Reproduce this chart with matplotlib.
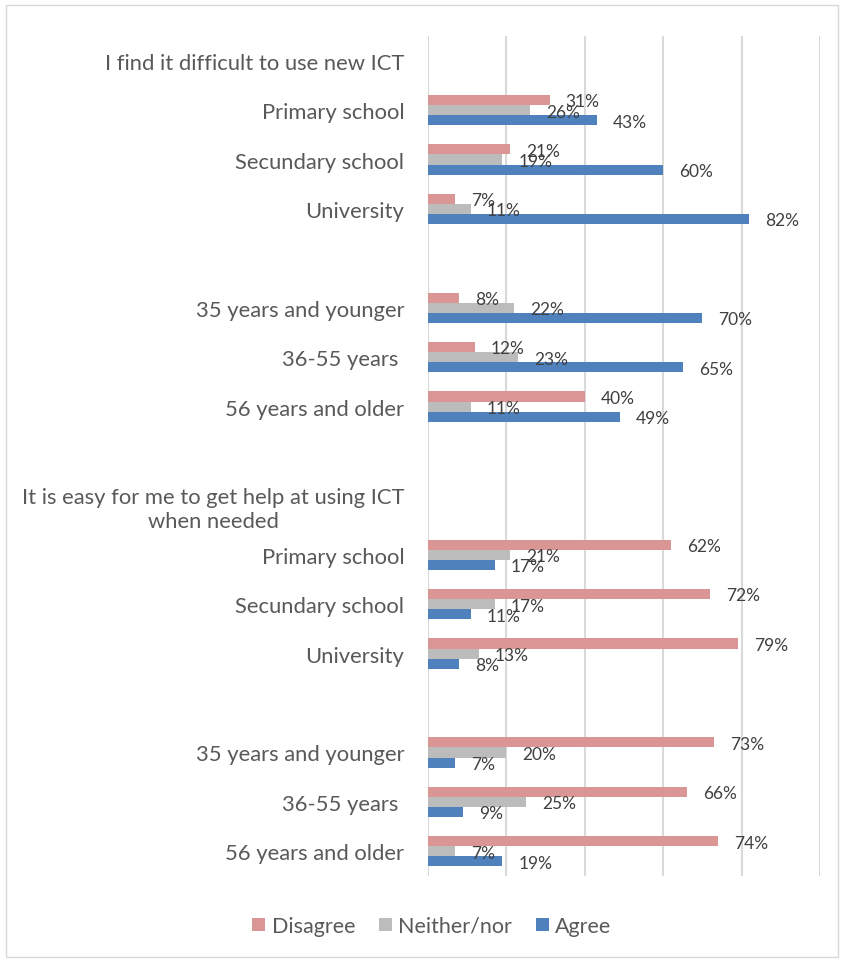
import matplotlib.pyplot as plt
from matplotlib.patches import Rectangle

# categorias (linhas vazias separam os blocos)
rows = ['I find it difficult to use new ICT',
        'Primary school', 'Secundary school', 'University', '',
        '35 years and younger', '36-55 years ', '56 years and older', '',
        'It is easy for me to get help at using ICT\nwhen needed',
        'Primary school', 'Secundary school', 'University', '',
        '35 years and younger', '36-55 years ', '56 years and older']

# linhas que têm barras
bar_rows = [1, 2, 3, 5, 6, 7, 10, 11, 12, 14, 15, 16]

disagree = [31, 21, 7, 8, 12, 40, 62, 72, 79, 73, 66, 74]
neither = [26, 19, 11, 22, 23, 11, 21, 17, 13, 20, 25, 7]
agree = [43, 60, 82, 70, 65, 49, 17, 11, 8, 7, 9, 19]

series = [('Disagree', disagree, '#D99694'),
          ('Neither/nor', neither, '#BCBCBC'),
          ('Agree', agree, '#4F81BD')]

plt.rcParams['font.family'] = ['Lato', 'DejaVu Sans']

fig = plt.figure(figsize=(8.46, 9.62), dpi=100)
ax = fig.add_axes([428 / 846, 1 - 877 / 962, 392 / 846, 840 / 962])

h = 0.205
offsets = [-h, 0, h]
for (name, vals, col), off in zip(series, offsets):
    ys = [r + off for r in bar_rows]
    ax.barh(ys, vals, height=h, color=col, label=name, zorder=3)
    for y, v in zip(ys, vals):
        ax.annotate(f'{v}%', (v, y), xytext=(11.5, -1), textcoords='offset points',
                    ha='left', va='center', fontsize=12.5, color='#404040', zorder=4)

ax.set_xlim(0, 100)
ax.set_ylim(len(rows) - 0.5, -0.5)
ax.set_xticks([0, 20, 40, 60, 80, 100])
ax.set_xticklabels([])
ax.set_yticks(range(len(rows)))
ax.set_yticklabels(rows, fontsize=15.8, color='#595959')
ax.tick_params(axis='both', length=0)
ax.tick_params(axis='y', pad=17)
for lbl in ax.get_yticklabels():
    lbl.set_multialignment('center')
ax.grid(axis='x', color='#D9D9D9', linewidth=1.5, zorder=0)
for s in ax.spines.values():
    s.set_visible(False)

leg = fig.legend(loc='center', bbox_to_anchor=(432 / 846, 1 - 927 / 962), ncol=3,
                 frameon=False, fontsize=15.5, handlelength=0.6, handleheight=0.6,
                 handletextpad=0.3, columnspacing=1.1)
for t in leg.get_texts():
    t.set_color('#595959')

fig.patches.append(Rectangle((6 / 846, 4 / 962), 832 / 846, 952 / 962, transform=fig.transFigure,
                             fill=False, edgecolor='#D9D9D9', linewidth=1))

fig.savefig('out.png', dpi=100)
